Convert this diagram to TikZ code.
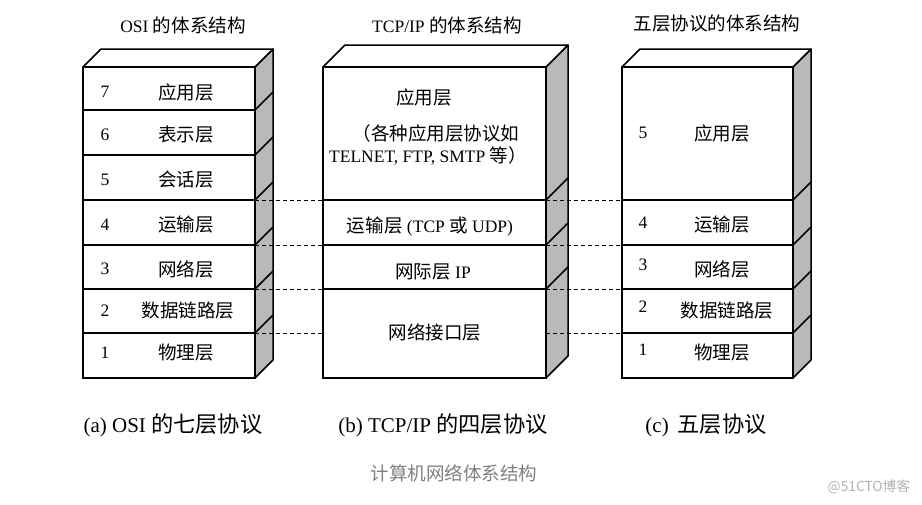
\documentclass[tikz,border=0pt]{standalone}
\usepackage{fontspec}
\setmainfont{Liberation Serif}
\newfontfamily\cjk[Scale=1.06]{Noto Sans CJK SC}
\newcommand\zh[1]{{\cjk #1}}
\begin{document}
\begin{tikzpicture}[x=1pt,y=-1pt,
  lay/.style={draw, line width=1.5pt, anchor=north west, inner sep=0pt, outer sep=0pt},
  sideface/.style={fill=gray!55, draw, line width=1.5pt, line join=round},
  topface/.style={fill=white, draw, line width=1.5pt, line join=round},
  diag/.style={line width=1.5pt},
  conn/.style={dash pattern=on 4pt off 3pt, line width=0.9pt},
  lbl/.style={font=\fontsize{17.5}{20}\selectfont, inner sep=0pt},
  ttl/.style={font=\fontsize{17.5}{20}\selectfont, inner sep=0pt},
  captxt/.style={font=\fontsize{21}{24}\selectfont, inner sep=0pt},
  notetxt/.style={font=\fontsize{17.5}{20}\selectfont\cjk, inner sep=0pt, text=black!50},
  wmtxt/.style={font=\fontsize{13}{15}\selectfont\cjk, inner sep=0pt, text=black!30}]
\useasboundingbox (0,0) rectangle (922,504);

% ---------- OSI box ----------
\draw[sideface] (255,67) -- (273,49) -- (273,360) -- (255,378) -- cycle;
\draw[topface] (83,67) -- (101,49) -- (273,49) -- (255,67) -- cycle;
\foreach \y in {110,155,200,245,289,333} \draw[diag] (255,\y) -- ++(18,-18);
\node[lay, minimum width=172pt, minimum height=43pt] (o7) at (83,67) {};
\node[lay, minimum width=172pt, minimum height=45pt] (o6) at (83,110) {};
\node[lay, minimum width=172pt, minimum height=45pt] (o5) at (83,155) {};
\node[lay, minimum width=172pt, minimum height=45pt] (o4) at (83,200) {};
\node[lay, minimum width=172pt, minimum height=44pt] (o3) at (83,245) {};
\node[lay, minimum width=172pt, minimum height=44pt] (o2) at (83,289) {};
\node[lay, minimum width=172pt, minimum height=45pt] (o1) at (83,333) {};

% ---------- TCP/IP box ----------
\draw[sideface] (546,67) -- (568,45) -- (568,356) -- (546,378) -- cycle;
\draw[topface] (323,67) -- (345,45) -- (568,45) -- (546,67) -- cycle;
\foreach \y in {200,245,289} \draw[diag] (546,\y) -- ++(22,-22);
\node[lay, minimum width=223pt, minimum height=133pt] (t4) at (323,67) {};
\node[lay, minimum width=223pt, minimum height=45pt] (t3) at (323,200) {};
\node[lay, minimum width=223pt, minimum height=44pt] (t2) at (323,245) {};
\node[lay, minimum width=223pt, minimum height=89pt] (t1) at (323,289) {};

% ---------- five-layer box ----------
\draw[sideface] (793,67) -- (811,49) -- (811,360) -- (793,378) -- cycle;
\draw[topface] (622,67) -- (640,49) -- (811,49) -- (793,67) -- cycle;
\foreach \y in {200,245,289,333} \draw[diag] (793,\y) -- ++(18,-18);
\node[lay, minimum width=171pt, minimum height=133pt] (f5) at (622,67) {};
\node[lay, minimum width=171pt, minimum height=45pt] (f4) at (622,200) {};
\node[lay, minimum width=171pt, minimum height=44pt] (f3) at (622,245) {};
\node[lay, minimum width=171pt, minimum height=44pt] (f2) at (622,289) {};
\node[lay, minimum width=171pt, minimum height=45pt] (f1) at (622,333) {};

% ---------- dashed correspondences ----------
\draw[conn] (o4.north east) -- (t3.north west);
\draw[conn] (o3.north east) -- (t2.north west);
\draw[conn] (o2.north east) -- (t1.north west);
\draw[conn] (o1.north east) -- (o1.north east -| t1.west);
\draw[conn] (t3.north east) -- (f4.north west);
\draw[conn] (t2.north east) -- (f3.north west);
\draw[conn] (t1.north east) -- (f2.north west);
\draw[conn] (f1.north west -| t1.east) -- (f1.north west);

% ---------- titles ----------
\node[ttl] (ttlo) at (183,25) {OSI \zh{的体系结构}};
\node[ttl] (ttlt) at (447,25) {TCP/IP \zh{的体系结构}};
\node[ttl] (ttlf) at (717,23) {\zh{五层协议的体系结构}};

% ---------- OSI labels ----------
\node[lbl] (on7) at (105,92) {7};  \node[lbl] (ol7) at (186,92) {\zh{应用层}};
\node[lbl] (on6) at (105,135) {6}; \node[lbl] (ol6) at (186,135) {\zh{表示层}};
\node[lbl] (on5) at (105,180) {5}; \node[lbl] (ol5) at (186,180) {\zh{会话层}};
\node[lbl] (on4) at (105,225) {4}; \node[lbl] (ol4) at (186,225) {\zh{运输层}};
\node[lbl] (on3) at (105,269) {3}; \node[lbl] (ol3) at (186,269) {\zh{网络层}};
\node[lbl] (on2) at (105,311) {2}; \node[lbl] (ol2) at (188,311) {\zh{数据链路层}};
\node[lbl] (on1) at (105,353) {1}; \node[lbl] (ol1) at (186,353) {\zh{物理层}};

% ---------- TCP/IP labels ----------
\node[lbl] (tl4a) at (424,97) {\zh{应用层}};
\node[lbl] (tl4b) at (436,133) {\zh{（各种应用层协议如}};
\node[lbl] (tl4c) at (428,156) {TELNET, FTP, SMTP \zh{等）}};
\node[lbl] (tl3) at (430,227) {\zh{运输层} (TCP \zh{或} UDP)};
\node[lbl] (tl2) at (433,272) {\zh{网际层} IP};
\node[lbl] (tl1) at (435,332) {\zh{网络接口层}};

% ---------- five-layer labels ----------
\node[lbl] (fn5) at (643,133) {5}; \node[lbl] (fl5) at (722,133) {\zh{应用层}};
\node[lbl] (fn4) at (643,223) {4}; \node[lbl] (fl4) at (722,225) {\zh{运输层}};
\node[lbl] (fn3) at (643,265) {3}; \node[lbl] (fl3) at (722,269) {\zh{网络层}};
\node[lbl] (fn2) at (643,307) {2}; \node[lbl] (fl2) at (727,311) {\zh{数据链路层}};
\node[lbl] (fn1) at (643,350) {1}; \node[lbl] (fl1) at (722,353) {\zh{物理层}};

% ---------- captions ----------
\node[captxt] (capa) at (173,425) {(a) OSI \zh{的七层协议}};
\node[captxt] (capb) at (443,425) {(b) TCP/IP \zh{的四层协议}};
\node[captxt] (capc) at (706,425) {(c)\, \zh{五层协议}};
\node[notetxt] (capm) at (454,473) {计算机网络体系结构};
\node[wmtxt] (wm) at (869,487) {@51CTO博客};
\end{tikzpicture}
\end{document}
